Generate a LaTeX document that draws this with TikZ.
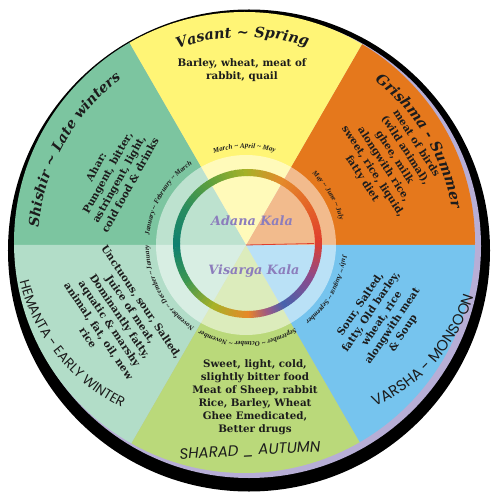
\documentclass[tikz,border=0pt]{standalone}
\usepackage{fontspec}
\setmainfont{DejaVu Serif}
\newfontfamily\capsfont{Poppins}
\newfontfamily\monthfamily{Liberation Serif}
\usetikzlibrary{decorations.text}

\definecolor{vasant}{RGB}{255,245,118}
\definecolor{grishma}{RGB}{229,120,28}
\definecolor{varsha}{RGB}{118,196,238}
\definecolor{sharad}{RGB}{186,217,122}
\definecolor{hemanta}{RGB}{178,221,200}
\definecolor{shishir}{RGB}{124,197,160}
\definecolor{rim}{RGB}{183,174,214}
\definecolor{kala}{RGB}{140,125,188}
\definecolor{ink}{RGB}{28,28,28}
% ring colours
\definecolor{rgA}{RGB}{224,62,45}
\definecolor{rgB}{RGB}{228,100,40}
\definecolor{rgC}{RGB}{228,138,42}
\definecolor{rgD}{RGB}{165,178,40}
\definecolor{rgE}{RGB}{95,160,60}
\definecolor{rgF}{RGB}{40,140,95}
\definecolor{rgG}{RGB}{15,128,112}
\definecolor{rgH}{RGB}{60,150,80}
\definecolor{rgI}{RGB}{168,178,40}
\definecolor{rgJ}{RGB}{232,135,40}
\definecolor{rgM}{RGB}{160,90,130}
\definecolor{rgK}{RGB}{72,98,172}
\definecolor{rgL}{RGB}{140,75,140}

\newcommand\titlefont{\color{ink}\bfseries\itshape\fontsize{14.5}{17}\selectfont}
\newcommand\monthfont{\color{ink}\monthfamily\bfseries\itshape\fontsize{7}{8}\selectfont}
\newcommand\seasonfont{\color{ink}\capsfont}

\tikzset{
  along/.style={decorate, decoration={text along path, text align=center, text={#1}}},
  food/.style={align=center, text=ink, inner sep=0pt,
    font=\bfseries\fontsize{10.3}{12.9}\selectfont},
  kalatext/.style={text=kala, font=\bfseries\itshape\fontsize{12.8}{15}\selectfont},
}

\begin{document}
\begin{tikzpicture}[x=1pt,y=1pt]
  \useasboundingbox (-246,-255) rectangle (254,245);
  \coordinate (o) at (0,0);

  % Rim
  \fill[black] (3,-5.5) circle (241);
  \fill[rim] (3,-1) circle (232);

  % Sectors
  \begin{scope}
    \clip (-1.5,2.5) circle (230.5);
    \foreach \s/\c in {0/grishma,60/vasant,120/shishir,180/hemanta,240/sharad,300/varsha}
      \fill[\c] (o) -- (\s:400) arc[start angle=\s, end angle=\s+60, radius=400] -- cycle;
  \end{scope}

  % Inner circle
  \fill[white, opacity=0.5] (o) circle (90);

  % Ring
  \foreach \a/\b/\ca/\cb in {0/30/rgA/rgB, 30/60/rgB/rgC, 60/90/rgC/rgD, 90/120/rgD/rgE,
      120/150/rgE/rgF, 150/180/rgF/rgG, 180/210/rgG/rgH, 210/240/rgH/rgI,
      240/270/rgI/rgJ, 270/285/rgJ/rgM, 285/300/rgM/rgK, 300/330/rgK/rgL, 330/360/rgL/rgA}
    \foreach \t in {0,...,9} {
      \pgfmathsetmacro\st{\a+(\b-\a)*\t/10}
      \pgfmathsetmacro\en{\st+(\b-\a)/10+0.4}
      \pgfmathtruncatemacro\p{100-10*\t}
      \draw[line width=7, color=\ca!\p!\cb] (1.5,1.5) ++(\st:71) arc[start angle=\st, end angle=\en, radius=71];
    }
  \draw[rgA, line width=0.8] (o) -- (68,1.5);

  % Kala
  \node[kalatext] (adana) at (6,24) {Adana Kala};
  \node[kalatext] (visarga) at (8,-26) {Visarga Kala};

  % Months
  \path[along={|\monthfont|March {\textasciitilde} April {\textasciitilde} May}] (136:97) arc[start angle=136, end angle=46, radius=97];
  \path[along={|\monthfont|May {\textasciitilde} June {\textasciitilde} July}] (76:97) arc[start angle=76, end angle=-14, radius=97];
  \path[along={|\monthfont|July {\textasciitilde} August {\textasciitilde} September}] (16:97) arc[start angle=16, end angle=-74, radius=97];
  \path[along={|\monthfont|September {\textasciitilde} Octmber {\textasciitilde} November}] (-44:97) arc[start angle=-44, end angle=-134, radius=97];
  \path[along={|\monthfont|November {\textasciitilde} December {\textasciitilde} January}] (254:97) arc[start angle=254, end angle=164, radius=97];
  \path[along={|\monthfont|January {\textasciitilde} February {\textasciitilde} March}] (194:97) arc[start angle=194, end angle=104, radius=97];

  % Season names
  \path[along={|\titlefont|Vasant {\textasciitilde} Spring}] (126:208) arc[start angle=126, end angle=56, radius=208];
  \path[along={|\titlefont|Grishma - Summer}] (66:209) arc[start angle=66, end angle=-4, radius=209];
  \path[along={|\titlefont\fontsize{14}{16}\selectfont|Shishir {\textasciitilde} Late winters}] (186:208) arc[start angle=186, end angle=116, radius=208];
  \path[along={|\seasonfont\fontsize{13.5}{15}\selectfont|HEMANTA - EARLY WINTER}] (-40,10) ++(180:192) arc[start angle=180, end angle=258, radius=192];
  \path[along={|\seasonfont\fontsize{15}{17}\selectfont|VARSHA - MONSOON}] (58,2) ++(-82:178) arc[start angle=-82, end angle=-2, radius=178];
  \node[text=ink, font=\capsfont\itshape\fontsize{15}{17}\selectfont, rotate=3] (sharadname) at (4,-206) {SHARAD \_ AUTUMN};

  % Food
  \node[food] (vasantfood) at (-4,175) {Barley, wheat, meat of\\rabbit, quail};
  \node[food, rotate=-57] (grishmafood) at (143,84) {meat of birds\\(wild animal),\\ghee, milk\\alongwith rice,\\sweet, rice, liquid,\\fatty diet};
  \node[food, rotate=56] (varshafood) at (136,-74) {Sour, Salted,\\fatty, Old barley,\\wheat, rice\\alongwith meat\\\& Soup};
  \node[food] (sharadfood) at (9,-152) {Sweet, light, cold,\\slightly bitter food\\Meat of Sheep, rabbit\\Rice, Barley, Wheat\\Ghee Emedicated,\\Better drugs};
  \node[food, rotate=-56] (hemantafood) at (-131,-75) {Unctuous, sour, Salted,\\Juice of meat,\\Dominantly fatty,\\aquatic \& marshy\\animal, fat, oil, new\\rice};
  \node[food, rotate=61] (shishirfood) at (-133,69) {Ahar:\\Pungent, bitter,\\astringent, light,\\cold food \& drinks};
\end{tikzpicture}
\end{document}
